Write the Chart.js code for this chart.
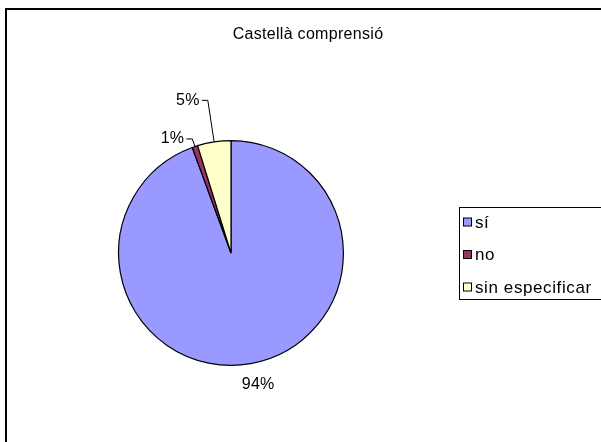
<!DOCTYPE html>
<html>
<head>
<meta charset="utf-8">
<script src="https://cdn.jsdelivr.net/npm/chart.js@4/dist/chart.umd.min.js"></script>
<style>
  body { margin: 0; background: #fff; }
  canvas { display: block; }
</style>
</head>
<body>
<canvas id="pieChart" width="601" height="442"></canvas>
<script>
// Chart data
const chartTitle = 'Castellà comprensió';
const categories = ['sí', 'no', 'sin especificar'];
const values = [94.4, 0.8, 4.8];
const sliceColors = ['#9999FF', '#993366', '#FFFFCC'];

// label placement: extra radius for leader elbow (null = plain label under the arc)
const leaderExtra = [null, 8, 42];
const FONT = '16px "Liberation Sans", Arial, sans-serif';

const total = values.reduce(function(a, b) { return a + b; }, 0);

const decorPlugin = {
    id: 'decor',
    afterDraw: function(chart) {
        const c = chart.ctx;
        c.save();

        // outer frame (clipped on the right / bottom like the original)
        c.strokeStyle = '#000';
        c.lineWidth = 2;
        c.beginPath();
        c.moveTo(6, 450);
        c.lineTo(6, 9);
        c.lineTo(610, 9);
        c.stroke();

        // title
        c.fillStyle = '#000';
        c.font = FONT;
        c.textAlign = 'center';
        c.textBaseline = 'middle';
        c.letterSpacing = '0.3px';
        c.fillText(chartTitle, 308, 35);

        // data labels
        const arcs = chart.getDatasetMeta(0).data;
        arcs.forEach(function(arc, i) {
            const cx = arc.x, cy = arc.y, r = arc.outerRadius;
            const mid = (arc.startAngle + arc.endAngle) / 2;
            const txt = Math.round(values[i] / total * 100) + '%';
            c.fillStyle = '#000';
            if (leaderExtra[i] === null) {
                c.textAlign = 'center';
                c.textBaseline = 'middle';
                c.fillText(txt, cx + Math.cos(mid) * (r + 20) + 4, cy + Math.sin(mid) * (r + 20) + 1);
            } else {
                const px = cx + Math.cos(mid) * r, py = cy + Math.sin(mid) * r;
                const R = r + leaderExtra[i];
                const ex = cx + Math.cos(mid) * R, ey = cy + Math.sin(mid) * R;
                c.strokeStyle = '#000';
                c.lineWidth = 1;
                c.beginPath();
                c.moveTo(px, py);
                c.lineTo(ex, ey);
                c.lineTo(ex - 6, ey);
                c.stroke();
                c.textAlign = 'right';
                c.textBaseline = 'middle';
                c.fillText(txt, ex - 8, ey);
            }
        });

        // legend box
        c.strokeStyle = '#000';
        c.lineWidth = 1;
        c.strokeRect(459.5, 207.5, 160, 92);
        c.font = '17px "Liberation Sans", Arial, sans-serif';
        c.textAlign = 'left';
        c.textBaseline = 'middle';
        c.letterSpacing = '0.6px';
        categories.forEach(function(name, i) {
            const y = 222 + i * 32.5;
            c.fillStyle = sliceColors[i];
            c.fillRect(463.5, y - 4, 8, 8);
            c.strokeStyle = '#000';
            c.strokeRect(463.5, y - 4, 8, 8);
            c.fillStyle = '#000';
            c.fillText(name, 475, y + 1);
        });

        c.restore();
    }
};

const ctx = document.getElementById('pieChart').getContext('2d');
const myChart = new Chart(ctx, {
    type: 'pie',
    data: {
        labels: categories,
        datasets: [{
            data: values,
            backgroundColor: sliceColors,
            borderColor: '#000',
            borderWidth: 1.2
        }]
    },
    options: {
        responsive: false,
        animation: false,
        layout: {
            padding: { left: 118, right: 257, top: 140, bottom: 76 }
        },
        plugins: {
            legend: { display: false },
            tooltip: { enabled: false }
        }
    },
    plugins: [decorPlugin]
});
</script>
</body>
</html>
